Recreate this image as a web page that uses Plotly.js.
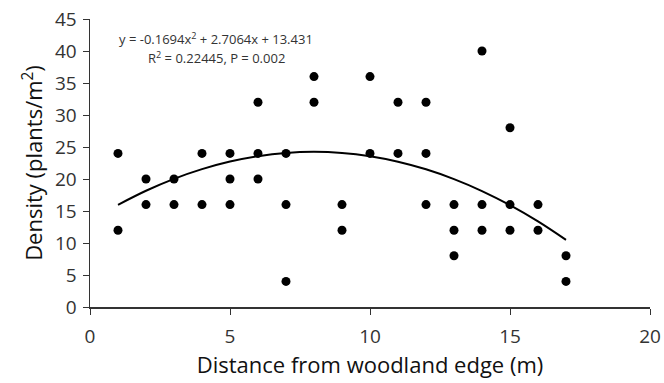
<!DOCTYPE html>
<html><head><meta charset="utf-8">
<script src="https://cdn.plot.ly/plotly-3.0.1.min.js"></script>
<style>html,body{margin:0;padding:0;background:#fff}#chart{width:664px;height:383px}</style>
</head><body><div id="chart"></div>
<script>
const distance = [1,1, 2,2, 3,3, 4,4, 5,5,5, 6,6,6, 7,7,7, 8,8, 9,9, 10,10, 11,11, 12,12,12, 13,13,13, 14,14,14, 15,15,15, 16,16, 17,17];
const density  = [24,12, 20,16, 20,16, 24,16, 24,20,16, 32,24,20, 24,16,4, 36,32, 16,12, 36,24, 32,24, 32,24,16, 16,12,8, 40,16,12, 28,16,12, 16,12, 8,4];
const fitX = [1,2,3,4,5,6,7,8,9,10,11,12,13,14,15,16,17];
const fitY = [15.968,18.166,20.026,21.546,22.728,23.571,24.075,24.241,24.067,23.555,22.704,21.514,19.986,18.118,15.912,13.367,10.483];
const eqLine1 = "y = -0.1694x<sup>2</sup> + 2.7064x + 13.431";
const eqLine2 = "R<sup>2</sup> = 0.22445, P = 0.002";

const font = "Open Sans, Noto Sans, sans-serif";
const data = [
  {x: distance, y: density, type: 'scatter', mode: 'markers',
   marker: {color: '#000', size: 9}, hoverinfo: 'skip'},
  {x: fitX, y: fitY, type: 'scatter', mode: 'lines',
   line: {color: '#000', width: 2, shape: 'spline'}, hoverinfo: 'skip'}
];
const layout = {
  width: 664, height: 383,
  margin: {l: 90, r: 14, t: 19, b: 76},
  showlegend: false,
  paper_bgcolor: '#fff', plot_bgcolor: '#fff',
  font: {family: font, color: '#222'},
  xaxis: {range: [0, 20], tickvals: [0,5,10,15,20], showgrid: false, zeroline: false,
    showline: true, linecolor: '#333', linewidth: 1.5, ticks: 'outside', ticklen: 6, tickcolor: '#333',
    ticklabelstandoff: 6,
    tickfont: {size: 19, color: '#333'},
    title: {text: 'Distance from woodland edge (m)', font: {size: 22, color: '#111'}, standoff: 8}},
  yaxis: {range: [0, 45], tickvals: [0,5,10,15,20,25,30,35,40,45], showgrid: false, zeroline: false,
    showline: true, linecolor: '#333', linewidth: 1.5, ticks: 'outside', ticklen: 6, tickcolor: '#333',
    ticklabelstandoff: 2,
    tickfont: {size: 19, color: '#333'},
    title: {text: 'Density (plants/m<sup>2</sup>)', font: {size: 22, color: '#111'}, standoff: 6}},
  annotations: [
    {x: 4.5, y: 42.0, xref: 'x', yref: 'y', text: eqLine1, showarrow: false,
     font: {size: 13, color: '#333', family: font}},
    {x: 4.5, y: 39.0, xref: 'x', yref: 'y', text: eqLine2, showarrow: false,
     font: {size: 13, color: '#333', family: font}}
  ]
};
Plotly.newPlot('chart', data, layout, {staticPlot: true, displayModeBar: false});
</script></body></html>
